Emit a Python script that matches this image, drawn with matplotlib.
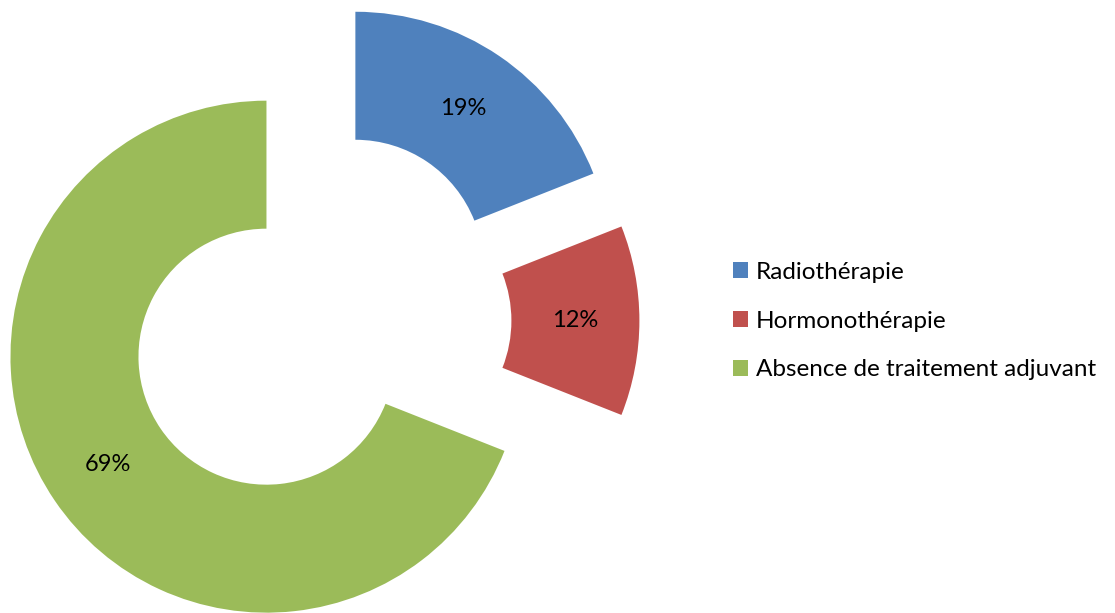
import matplotlib.pyplot as plt
from matplotlib.patches import Patch

labels = ["Radiothérapie", "Hormonothérapie", "Absence de traitement adjuvant"]
values = [19, 12, 69]
colors = ["#4F81BD", "#C0504D", "#9BBB59"]

plt.rcParams['font.family'] = ['Lato', 'DejaVu Sans']

fig = plt.figure(figsize=(11.15, 6.13), dpi=100)
ax = fig.add_axes([0, 0, 1, 1])

# donut, clockwise from top, every slice pulled out
wedges, texts, autotexts = ax.pie(
    values, colors=colors, startangle=90, counterclock=False,
    explode=[0.25, 0.25, 0.25], radius=1.0,
    wedgeprops=dict(width=0.5, edgecolor="none"),
    autopct="%d%%", pctdistance=0.75,
    textprops=dict(fontsize=17, color="black"))

# place the pie the same way as the picture (256 px per unit)
px = 256.0
cx, cy = 319.4, 320.7
ax.set_xlim(-cx / px, (1115 - cx) / px)
ax.set_ylim(-(613 - cy) / px, cy / px)
ax.set_aspect("auto")
ax.axis("off")

handles = [Patch(facecolor=c, edgecolor="none") for c in colors]
fig.legend(handles, labels, loc="center left", bbox_to_anchor=(733 / 1115, 1 - 321 / 613),
           frameon=False, fontsize=17.5, handlelength=0.62, handleheight=0.62,
           handletextpad=0.33, labelspacing=1.15, borderpad=0, borderaxespad=0)

fig.savefig("out.png", dpi=100)
